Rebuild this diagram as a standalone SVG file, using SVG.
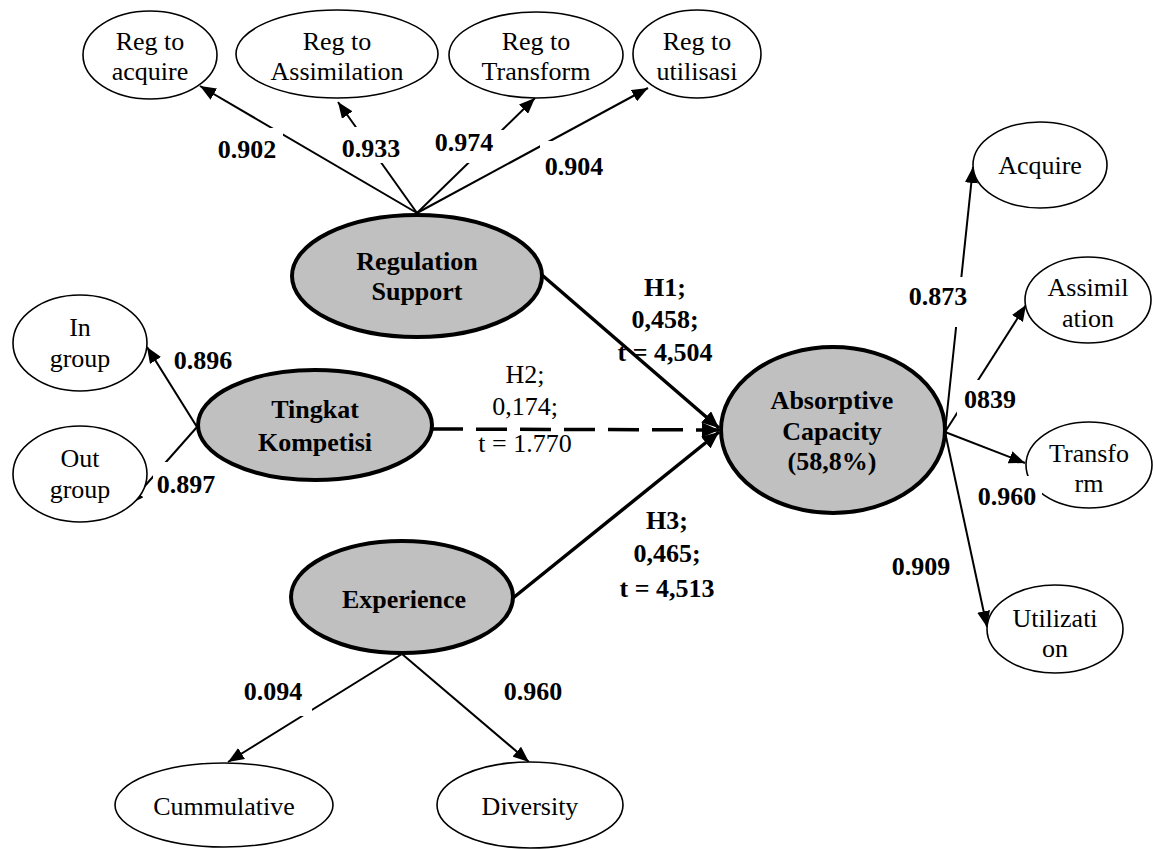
<svg xmlns="http://www.w3.org/2000/svg" width="1153" height="849" viewBox="0 0 1153 849">
  <style>
    text { font-family: "Liberation Serif", "Times New Roman", serif; font-size: 26px; fill: #000; text-anchor: middle; }
    .b { font-weight: bold; }
    .ind { fill: #fff; stroke: #000; stroke-width: 1.6; }
    .lat { fill: #c0c0c0; stroke: #000; stroke-width: 4; }
    .load { fill: none; stroke: #000; stroke-width: 2; marker-end: url(#ah); }
    .path { fill: none; stroke: #000; stroke-width: 3.5; marker-end: url(#ahb); }
    .dash { stroke-dasharray: 31 13; }
    .bg { fill: #fff; stroke: none; }
  </style>
  <defs>
    <marker id="ah" markerUnits="userSpaceOnUse" viewBox="0 0 16 13" refX="16" refY="6.5" markerWidth="16" markerHeight="13" orient="auto">
      <path d="M0,0 L16,6.5 L0,13 z" fill="#000"/>
    </marker>
    <marker id="ahb" markerUnits="userSpaceOnUse" viewBox="0 0 17 15" refX="17" refY="7.5" markerWidth="17" markerHeight="15" orient="auto">
      <path d="M0,0 L17,7.5 L0,15 z" fill="#000"/>
    </marker>
  </defs>

  <!-- connectors -->
  <g id="connectors">
    <!-- Regulation Support loadings -->
    <line class="load" x1="417" y1="213" x2="200" y2="86"/>
    <line class="load" x1="417" y1="213" x2="338" y2="102"/>
    <line class="load" x1="417" y1="213" x2="535" y2="98"/>
    <line class="load" x1="417" y1="213" x2="648" y2="88"/>
    <!-- Tingkat Kompetisi loadings -->
    <line class="load" x1="197" y1="427" x2="147" y2="347"/>
    <line class="load" x1="197" y1="427" x2="128" y2="505"/>
    <!-- Experience loadings -->
    <line class="load" x1="402" y1="654" x2="228" y2="762"/>
    <line class="load" x1="402" y1="654" x2="529" y2="762"/>
    <!-- Absorptive Capacity loadings -->
    <line class="load" x1="945" y1="432" x2="973" y2="167"/>
    <line class="load" x1="945" y1="432" x2="1026" y2="305"/>
    <line class="load" x1="945" y1="432" x2="1025" y2="463"/>
    <line class="load" x1="945" y1="432" x2="987" y2="627"/>
    <!-- structural paths -->
    <line class="path" x1="542" y1="275" x2="719" y2="428"/>
    <line class="path dash" x1="432" y1="429" x2="719" y2="430"/>
    <line class="path" x1="513" y1="598" x2="719" y2="432"/>
  </g>

  <!-- latent variables -->
  <g id="regulation-support">
    <ellipse class="lat" cx="417" cy="276" rx="125" ry="61"/>
    <text class="b" x="417" y="270">Regulation</text>
    <text class="b" x="417" y="300">Support</text>
  </g>
  <g id="tingkat-kompetisi">
    <ellipse class="lat" cx="315" cy="425" rx="117" ry="55"/>
    <text class="b" x="315" y="418">Tingkat</text>
    <text class="b" x="315" y="451">Kompetisi</text>
  </g>
  <g id="experience">
    <ellipse class="lat" cx="402" cy="597" rx="111" ry="56"/>
    <text class="b" x="404" y="608">Experience</text>
  </g>
  <g id="absorptive-capacity">
    <ellipse class="lat" cx="833" cy="430" rx="112" ry="83"/>
    <text class="b" x="832" y="409">Absorptive</text>
    <text class="b" x="832" y="440">Capacity</text>
    <text class="b" x="832" y="470">(58,8%)</text>
  </g>

  <!-- indicators -->
  <g id="reg-acquire">
    <ellipse class="ind" cx="150" cy="55" rx="67" ry="44"/>
    <text x="150" y="50">Reg to</text>
    <text x="150" y="80">acquire</text>
  </g>
  <g id="reg-assimilation">
    <ellipse class="ind" cx="337" cy="54" rx="101" ry="44"/>
    <text x="337" y="50">Reg to</text>
    <text x="337" y="80">Assimilation</text>
  </g>
  <g id="reg-transform">
    <ellipse class="ind" cx="536" cy="55" rx="87" ry="43"/>
    <text x="536" y="50">Reg to</text>
    <text x="536" y="80">Transform</text>
  </g>
  <g id="reg-utilisasi">
    <ellipse class="ind" cx="697" cy="54" rx="64" ry="44"/>
    <text x="697" y="50">Reg to</text>
    <text x="697" y="80">utilisasi</text>
  </g>
  <g id="in-group">
    <ellipse class="ind" cx="80" cy="343" rx="67" ry="48"/>
    <text x="80" y="336">In</text>
    <text x="80" y="367">group</text>
  </g>
  <g id="out-group">
    <ellipse class="ind" cx="80" cy="474" rx="67" ry="48"/>
    <text x="80" y="467">Out</text>
    <text x="80" y="498">group</text>
  </g>
  <g id="cummulative">
    <ellipse class="ind" cx="224" cy="805" rx="109" ry="42"/>
    <text x="224" y="815">Cummulative</text>
  </g>
  <g id="diversity">
    <ellipse class="ind" cx="530" cy="805" rx="93" ry="43"/>
    <text x="530" y="815">Diversity</text>
  </g>
  <g id="acquire">
    <ellipse class="ind" cx="1040" cy="165" rx="67" ry="43"/>
    <text x="1040" y="174">Acquire</text>
  </g>
  <g id="assimilation">
    <ellipse class="ind" cx="1088" cy="300" rx="63" ry="43"/>
    <text x="1088" y="296">Assimil</text>
    <text x="1088" y="327">ation</text>
  </g>
  <g id="transform">
    <ellipse class="ind" cx="1089" cy="465" rx="63" ry="43"/>
    <text x="1089" y="462">Transfo</text>
    <text x="1089" y="492">rm</text>
  </g>
  <g id="utilization">
    <ellipse class="ind" cx="1055" cy="629" rx="68" ry="44"/>
    <text x="1055" y="627">Utilizati</text>
    <text x="1055" y="657">on</text>
  </g>

  <!-- coefficient labels -->
  <g id="labels">
    <rect class="bg" x="213" y="128" width="70" height="44"/>
    <text class="b" x="247" y="158">0.902</text>
    <rect class="bg" x="338" y="127" width="66" height="36"/>
    <text class="b" x="371" y="157">0.933</text>
    <rect class="bg" x="432" y="130" width="72" height="33"/>
    <text class="b" x="464" y="151">0.974</text>
    <rect class="bg" x="540" y="141" width="70" height="44"/>
    <text class="b" x="574" y="175">0.904</text>

    <text class="b" x="203" y="369">0.896</text>
    <rect class="bg" x="153" y="462" width="67" height="43"/>
    <text class="b" x="186" y="493">0.897</text>

    <rect class="bg" x="238" y="672" width="74" height="44"/>
    <text class="b" x="273" y="700">0.094</text>
    <text class="b" x="533" y="700">0.960</text>

    <rect class="bg" x="905" y="277" width="63" height="50"/>
    <text class="b" x="938" y="305">0.873</text>
    <rect class="bg" x="957" y="380" width="65" height="44"/>
    <text class="b" x="990" y="408">0839</text>
    <rect class="bg" x="975" y="476" width="67" height="44"/>
    <text class="b" x="1007" y="505">0.960</text>
    <text class="b" x="921" y="575">0.909</text>

    <text class="b" x="665" y="296">H1;</text>
    <text class="b" x="665" y="328">0,458;</text>
    <text class="b" x="665" y="361">t = 4,504</text>

    <text x="525" y="383">H2;</text>
    <text x="525" y="415">0,174;</text>
    <text x="525" y="452">t = 1.770</text>

    <text class="b" x="667" y="529">H3;</text>
    <text class="b" x="667" y="562">0,465;</text>
    <text class="b" x="667" y="597">t = 4,513</text>
  </g>
</svg>
